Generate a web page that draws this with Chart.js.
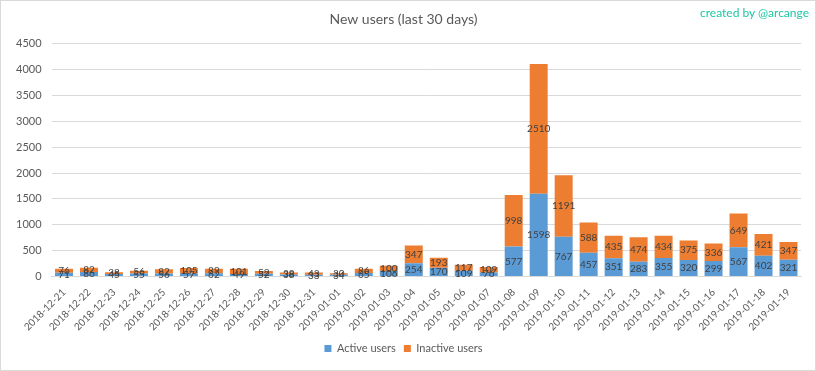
<!DOCTYPE html>
<html>
<head>
<meta charset="utf-8">
<script src="https://cdn.jsdelivr.net/npm/chart.js@4"></script>
<style>
  html, body { margin: 0; padding: 0; background: #fff; }
  .wrap { position: relative; width: 816px; height: 371px; box-sizing: border-box; border: 1px solid #d9d9d9; }
  .credit { position: absolute; right: 6px; top: 4px; font: 12px Lato, sans-serif; color: #1fc7a4; }
</style>
</head>
<body>
<div class="wrap">
  <canvas id="usersChart" width="814" height="369"></canvas>
  <div class="credit">created by @arcange</div>
</div>
<script>
const days = ["2018-12-21","2018-12-22","2018-12-23","2018-12-24","2018-12-25","2018-12-26","2018-12-27",
  "2018-12-28","2018-12-29","2018-12-30","2018-12-31","2019-01-01","2019-01-02","2019-01-03","2019-01-04",
  "2019-01-05","2019-01-06","2019-01-07","2019-01-08","2019-01-09","2019-01-10","2019-01-11","2019-01-12",
  "2019-01-13","2019-01-14","2019-01-15","2019-01-16","2019-01-17","2019-01-18","2019-01-19"];
const activeUsers = [71, 86, 45, 55, 56, 57, 62, 49, 52, 38, 33, 34, 65, 106, 254,
  170, 109, 76, 577, 1598, 767, 457, 351, 283, 355, 320, 299, 567, 402, 321];
const inactiveUsers = [76, 82, 38, 56, 82, 105, 89, 101, 52, 38, 43, 30, 86, 100, 347,
  193, 117, 109, 998, 2510, 1191, 588, 435, 474, 434, 375, 336, 649, 421, 347];

// Zahlen in die Balken schreiben
const barLabels = {
  id: "barLabels",
  afterDatasetsDraw(chart) {
    const ctx = chart.ctx;
    ctx.save();
    ctx.font = "10px Lato, sans-serif";
    ctx.fillStyle = "#404040";
    ctx.textAlign = "center";
    ctx.textBaseline = "middle";
    chart.data.datasets.forEach((ds, i) => {
      chart.getDatasetMeta(i).data.forEach((bar, j) => {
        const mid = (bar.y + bar.base) / 2;
        ctx.fillText(ds.data[j], bar.x, mid);
      });
    });
    ctx.restore();
  }
};

new Chart(document.getElementById("usersChart"), {
  type: "bar",
  data: {
    labels: days,
    datasets: [
      { label: "Active users", data: activeUsers, backgroundColor: "#5b9bd5" },
      { label: "Inactive users", data: inactiveUsers, backgroundColor: "#ed7d31" }
    ]
  },
  options: {
    responsive: false,
    animation: false,
    layout: { padding: { left: 5, right: 14, top: 0, bottom: 6 } },
    datasets: { bar: { categoryPercentage: 1.0, barPercentage: 0.72 } },
    scales: {
      x: {
        stacked: true,
        grid: { display: false },
        border: { color: "#d9d9d9" },
        ticks: { color: "#595959", font: { family: "Lato", size: 10 }, minRotation: 45, maxRotation: 45, autoSkip: false, padding: 2 }
      },
      y: {
        stacked: true,
        min: 0, max: 4500,
        ticks: { stepSize: 500, color: "#595959", font: { family: "Lato", size: 11 }, padding: 10,
          callback: v => String(v) },
        grid: { color: "#d9d9d9", drawTicks: false },
        border: { display: false }
      }
    },
    plugins: {
      title: { display: true, text: "New users (last 30 days)", color: "#595959",
        font: { family: "Lato", size: 14, weight: "normal" }, padding: { top: 10, bottom: 16 } },
      legend: { position: "bottom", labels: { color: "#595959", font: { family: "Lato", size: 11 },
        boxWidth: 7, boxHeight: 7, padding: 8 } },
      tooltip: { enabled: false }
    }
  },
  plugins: [barLabels]
});
</script>
</body>
</html>
